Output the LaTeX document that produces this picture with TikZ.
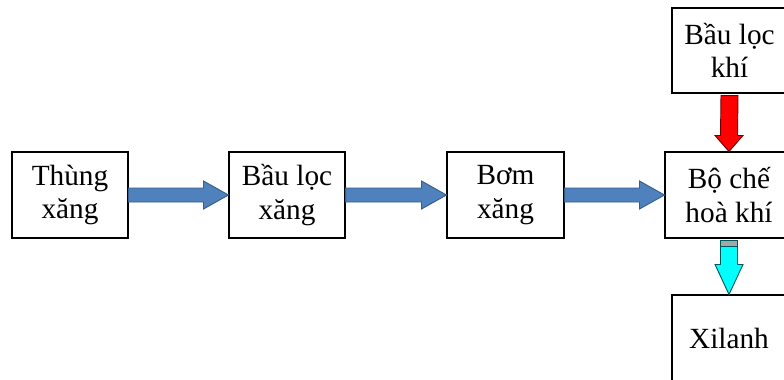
\documentclass[tikz,border=0pt]{standalone}
\usepackage{fontspec}
\setmainfont{Liberation Serif}
\usepackage{tikz}
\usetikzlibrary{calc}

\definecolor{flowblue}{HTML}{4F81BD}
\definecolor{flowedge}{HTML}{385D8A}
\definecolor{airred}{HTML}{FF0000}
\definecolor{mixcyan}{HTML}{00FFFF}

% fat arrow between two boxes, left to right
\newcommand{\harrow}[3]{%
  \filldraw[flow, fill=#3] ($(#1.east)+(0,-7)$) -- ($(#2.west)+(-25,-7)$)
    -- ($(#2.west)+(-25,-14)$) -- (#2.west) -- ($(#2.west)+(-25,14)$)
    -- ($(#2.west)+(-25,7)$) -- ($(#1.east)+(0,7)$) -- cycle;}
% fat arrow between two boxes, top to bottom
\newcommand{\varrow}[5]{%
  \filldraw[flow, fill=#3, draw=#4] ($(#1.south)+(-8.5,2)$) -- ($(#2.north)+(-8.5,-#5)$)
    -- ($(#2.north)+(-14,-#5)$) -- (#2.north) -- ($(#2.north)+(14,-#5)$)
    -- ($(#2.north)+(8.5,-#5)$) -- ($(#1.south)+(8.5,2)$) -- cycle;}

\begin{document}
\begin{tikzpicture}[x=0.03cm, y=-0.03cm,
    box/.style={draw=black, line width=0.9pt, fill=white, align=center, inner sep=0pt,
      minimum height=86*0.03cm, font=\fontsize{25}{28.5}\selectfont},
    flow/.style={line width=0.8pt, draw=flowedge, line join=miter}]
      \useasboundingbox (0,0) rectangle (784,379);
      \clip (0,0) rectangle (784,379);

      \node[box, minimum width=116*0.03cm] (thung) at (70,195) {Thùng\\xăng};
      \node[box, minimum width=116*0.03cm] (bauxang) at (287,195) {Bầu lọc\\xăng};
      \node[box, minimum width=117*0.03cm] (bom) at (505.5,195) {Bơm\\xăng};
      \node[box, minimum width=128*0.03cm] (boche) at (729,195) {Bộ chế\\hoà khí};
      \node[box, minimum width=115*0.03cm, minimum height=85*0.03cm] (baukhi) at (729.5,50.5) {Bầu lọc\\khí};
      \node[box, minimum width=114*0.03cm] (xilanh) at (729,338) {Xilanh};

      \harrow{thung}{bauxang}{flowblue}
      \harrow{bauxang}{bom}{flowblue}
      \harrow{bom}{boche}{flowblue}

      \varrow{baukhi}{boche}{airred}{airred!45!black}{16}
      \varrow{boche}{xilanh}{mixcyan}{mixcyan!35!black}{30}
      \filldraw[fill=gray!70, draw=mixcyan!35!black, line width=0.8pt]
        ($(boche.south)+(-8.5,2)$) rectangle ($(boche.south)+(8.5,8)$);
    \end{tikzpicture}
\end{document}
